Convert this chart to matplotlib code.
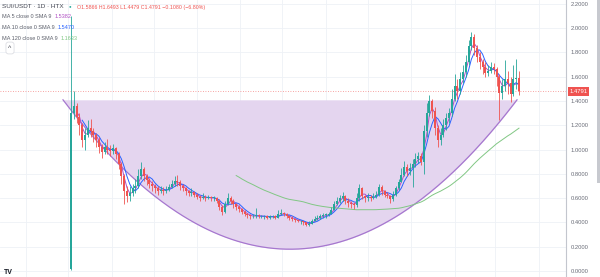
import numpy as np
import pandas as pd
import matplotlib
matplotlib.use("Agg")
import matplotlib.pyplot as plt
import matplotlib.dates as mdates
from matplotlib.patches import Rectangle

plt.rcParams["font.family"] = ["Liberation Sans", "DejaVu Sans"]

start = "2023-05-03"
first_open = 0.02
closes = [
    1.30, 1.36, 1.27, 1.20, 1.08, 1.12, 1.18, 1.15, 1.12, 1.08,
    1.02, 0.98, 1.02, 1.00, 0.99, 1.01, 0.96, 0.88, 0.78, 0.66,
    0.62, 0.64, 0.68, 0.70, 0.78, 0.84, 0.78, 0.75, 0.72, 0.70,
    0.68, 0.66, 0.67, 0.66, 0.67, 0.69, 0.72, 0.74, 0.73, 0.70,
    0.68, 0.66, 0.64, 0.65, 0.63, 0.61, 0.60, 0.61, 0.60, 0.61,
    0.60, 0.60, 0.58, 0.53, 0.49, 0.55, 0.60, 0.58, 0.55, 0.53,
    0.51, 0.49, 0.47, 0.46, 0.45, 0.45, 0.46, 0.45, 0.45, 0.45,
    0.44, 0.45, 0.45, 0.44, 0.47, 0.48, 0.47, 0.45, 0.44, 0.43,
    0.42, 0.41, 0.41, 0.40, 0.38, 0.39, 0.41, 0.43, 0.44, 0.45,
    0.46, 0.46, 0.47, 0.50, 0.55, 0.58, 0.60, 0.62, 0.58, 0.56,
    0.55, 0.54, 0.60, 0.68, 0.62, 0.60, 0.61, 0.60, 0.61, 0.63,
    0.69, 0.66, 0.63, 0.62, 0.59, 0.63, 0.68, 0.73, 0.79, 0.86,
    0.82, 0.85, 0.88, 0.92, 0.95, 0.90, 1.15, 1.30, 1.40, 1.32,
    1.18, 1.08, 1.12, 1.20, 1.26, 1.30, 1.42, 1.52, 1.48, 1.58,
    1.64, 1.72, 1.85, 1.93, 1.84, 1.76, 1.72, 1.68, 1.63, 1.65,
    1.68, 1.66, 1.60, 1.47, 1.52, 1.58, 1.55, 1.46, 1.58, 1.5866,
    1.4791,
]
highs = [
    2.10, 1.48, 1.38, 1.30, 1.22, 1.18, 1.24, 1.25, 1.18, 1.14,
    1.10, 1.05, 1.06, 1.09, 1.04, 1.05, 1.02, 0.98, 0.90, 0.80,
    0.70, 0.70, 0.72, 0.76, 0.84, 0.90, 0.86, 0.80, 0.77, 0.74,
    0.72, 0.70, 0.70, 0.69, 0.70, 0.72, 0.75, 0.78, 0.79, 0.75,
    0.72, 0.69, 0.67, 0.68, 0.66, 0.64, 0.63, 0.64, 0.63, 0.63,
    0.62, 0.62, 0.61, 0.59, 0.54, 0.58, 0.64, 0.62, 0.59, 0.56,
    0.54, 0.52, 0.50, 0.48, 0.47, 0.47, 0.52, 0.47, 0.46, 0.46,
    0.46, 0.46, 0.46, 0.46, 0.50, 0.51, 0.49, 0.48, 0.46, 0.45,
    0.44, 0.43, 0.42, 0.41, 0.40, 0.41, 0.43, 0.45, 0.46, 0.47,
    0.48, 0.48, 0.49, 0.53, 0.58, 0.61, 0.63, 0.65, 0.63, 0.60,
    0.58, 0.57, 0.64, 0.72, 0.69, 0.63, 0.64, 0.63, 0.64, 0.66,
    0.72, 0.71, 0.67, 0.65, 0.63, 0.66, 0.70, 0.76, 0.85, 0.91,
    0.88, 0.89, 0.92, 0.97, 0.98, 0.97, 1.20, 1.38, 1.45, 1.42,
    1.35, 1.20, 1.18, 1.25, 1.30, 1.34, 1.50, 1.62, 1.58, 1.64,
    1.70, 1.78, 1.90, 1.97, 1.95, 1.86, 1.80, 1.75, 1.72, 1.70,
    1.72, 1.71, 1.68, 1.62, 1.58, 1.74, 1.65, 1.60, 1.70, 1.75,
    1.6493,
]
lows = [
    0.01, 1.25, 1.22, 1.12, 1.02, 1.00, 1.10, 1.10, 1.06, 1.02,
    0.97, 0.93, 0.96, 0.96, 0.95, 0.96, 0.92, 0.84, 0.72, 0.55,
    0.57, 0.58, 0.62, 0.64, 0.68, 0.76, 0.74, 0.71, 0.68, 0.66,
    0.64, 0.63, 0.64, 0.63, 0.64, 0.66, 0.68, 0.70, 0.70, 0.67,
    0.66, 0.63, 0.62, 0.62, 0.61, 0.59, 0.58, 0.59, 0.58, 0.59,
    0.58, 0.58, 0.56, 0.50, 0.46, 0.48, 0.54, 0.55, 0.52, 0.50,
    0.49, 0.47, 0.45, 0.44, 0.43, 0.44, 0.44, 0.44, 0.44, 0.43,
    0.43, 0.43, 0.44, 0.43, 0.44, 0.46, 0.45, 0.44, 0.42, 0.41,
    0.40, 0.40, 0.39, 0.38, 0.37, 0.37, 0.39, 0.41, 0.42, 0.43,
    0.44, 0.44, 0.45, 0.47, 0.50, 0.54, 0.56, 0.58, 0.55, 0.53,
    0.52, 0.51, 0.53, 0.58, 0.59, 0.57, 0.58, 0.58, 0.59, 0.60,
    0.62, 0.63, 0.61, 0.60, 0.56, 0.58, 0.62, 0.67, 0.73, 0.78,
    0.78, 0.79, 0.69, 0.86, 0.89, 0.87, 0.80, 1.10, 1.28, 1.26,
    1.12, 1.02, 1.04, 1.10, 1.16, 1.22, 1.28, 1.40, 1.42, 1.46,
    1.55, 1.60, 1.70, 1.82, 1.78, 1.72, 1.66, 1.62, 1.60, 1.61,
    1.63, 1.62, 1.52, 1.24, 1.42, 1.48, 1.46, 1.39, 1.44, 1.50,
    1.4479,
]

ma_labels = ["MA 5 close 0 SMA 9", "MA 10 close 0 SMA 9", "MA 120 close 0 SMA 9"]
ma_values = ["1.5382", "1.5470", "1.1633"]
ma_windows = [3, 5, 60]  # 5, 10 and 120 days on 2-day bars
ma_colors = ["#b04fc4", "#2962ff", "#81c784"]

title = "SUI/USDT · 1D · HTX"
ohlc_text = "O1.5866 H1.6493 L1.4479 C1.4791 −0.1080 (−6.80%)"
last_price = 1.4791
price_ticks = [0.0, 0.2, 0.4, 0.6, 0.8, 1.0, 1.2, 1.4, 1.6, 1.8, 2.0, 2.2]

# cup drawing: rim price, floor price, start/end in days from first bar
cup_rim = 1.41
cup_floor = 0.18
cup_start = -5.7
cup_end = 318.6

up_col = "#26a69a"
down_col = "#ef5350"

dates = pd.date_range(start, periods=len(closes), freq="2D")
x = mdates.date2num(dates)
d0 = x[0]
closes = np.array(closes)
opens = np.concatenate([[first_open], closes[:-1]])
highs = np.array(highs)
lows = np.array(lows)

fig = plt.figure(figsize=(6, 2.77), dpi=100)
ax = fig.add_axes([0, 0, 566 / 600, 1])
ax.set_xlim(d0 - 50.7, d0 + 353.6)
ax.set_ylim(-0.049, 2.232)

# grid
ax.set_yticks(price_ticks)
ax.yaxis.set_major_formatter(plt.FuncFormatter(lambda v, p: f"{v:.4f}"))
ax.xaxis.set_major_locator(mdates.MonthLocator())
ax.grid(color="#eef1f6", lw=0.6)
ax.set_axisbelow(True)
ax.tick_params(axis="x", length=0, labelbottom=False)
ax.yaxis.tick_right()
ax.tick_params(axis="y", length=0, labelsize=4.2, colors="#6a6d78", pad=3.6)
for s in ["top", "left", "bottom"]:
    ax.spines[s].set_visible(False)
ax.spines["right"].set_color("#c3c6ce")
ax.spines["right"].set_linewidth(0.8)

# cup
cx = np.linspace(d0 + cup_start, d0 + cup_end, 300)
c_mid = (cup_start + cup_end) / 2 + d0
c_half = (cup_end - cup_start) / 2
cy = cup_floor + (cup_rim - cup_floor) * ((cx - c_mid) / c_half) ** 2
ax.fill_between(cx, cy, cup_rim, color="#e4d5ef", lw=0, zorder=1)
ax.plot(cx, cy, color="#a677cf", lw=0.9, zorder=1.5)

# last price line
ax.axhline(last_price, color=down_col, lw=0.6, ls=(0, (1, 2)), alpha=0.7, zorder=1.2)

# moving averages
for w, col in zip(ma_windows, ma_colors):
    ma = pd.Series(closes).rolling(w).mean()
    ax.plot(x, ma, color=col, lw=0.7, zorder=2)

# candles
cols = [up_col if c >= o else down_col for o, c in zip(opens, closes)]
ax.vlines(x, lows, highs, colors=cols, lw=0.6, zorder=3)
body = np.maximum(np.abs(closes - opens), 0.006)
ax.bar(x, body, bottom=np.minimum(opens, closes), width=1.5, color=cols, lw=0, zorder=3)

# price label on the scale
ax.annotate(f"{last_price:.4f}", xy=(1, last_price), xycoords=("axes fraction", "data"),
            xytext=(2.5, 0), textcoords="offset points", ha="left", va="center",
            fontsize=4.2, color="white", annotation_clip=False,
            bbox=dict(boxstyle="square,pad=0.3", fc=down_col, ec="none"))

# header legend
W, H = 600, 277
fig.text(2 / W, 1 - 7 / H, title, fontsize=4.6, color="#434651", va="center")
fig.text(70 / W, 1 - 6.5 / H, "●", fontsize=3.2, color="#26a69a", va="center", ha="center")
fig.text(77 / W, 1 - 7 / H, ohlc_text, fontsize=3.8, color="#ef5350", va="center")
for k, (lab, val, col) in enumerate(zip(ma_labels, ma_values, ma_colors)):
    yy = 1 - (17 + 10.5 * k) / H
    t = fig.text(2 / W, yy, lab, fontsize=4.0, color="#5d606b", va="center")
    fig.canvas.draw()
    bb = t.get_window_extent()
    fig.text((bb.x1 + 3) / W, yy, val, fontsize=4.0, color=col, va="center")
fig.text(10 / W, 1 - 48 / H, "^", fontsize=5, color="#434651", ha="center", va="center",
         bbox=dict(boxstyle="round,pad=0.35", fc="white", ec="#d6d8de", lw=0.5))
fig.text(4 / W, 1 - 273 / H, "TV", fontsize=5, weight="bold", color="#131722", va="center")

# scrollbar strip at right edge
fig.patches.append(Rectangle((597 / W, 1 - 183 / H), 3 / W, 183 / H,
                             transform=fig.transFigure, color="#c7c9cf", lw=0))

fig.savefig("out.png", dpi=100)
